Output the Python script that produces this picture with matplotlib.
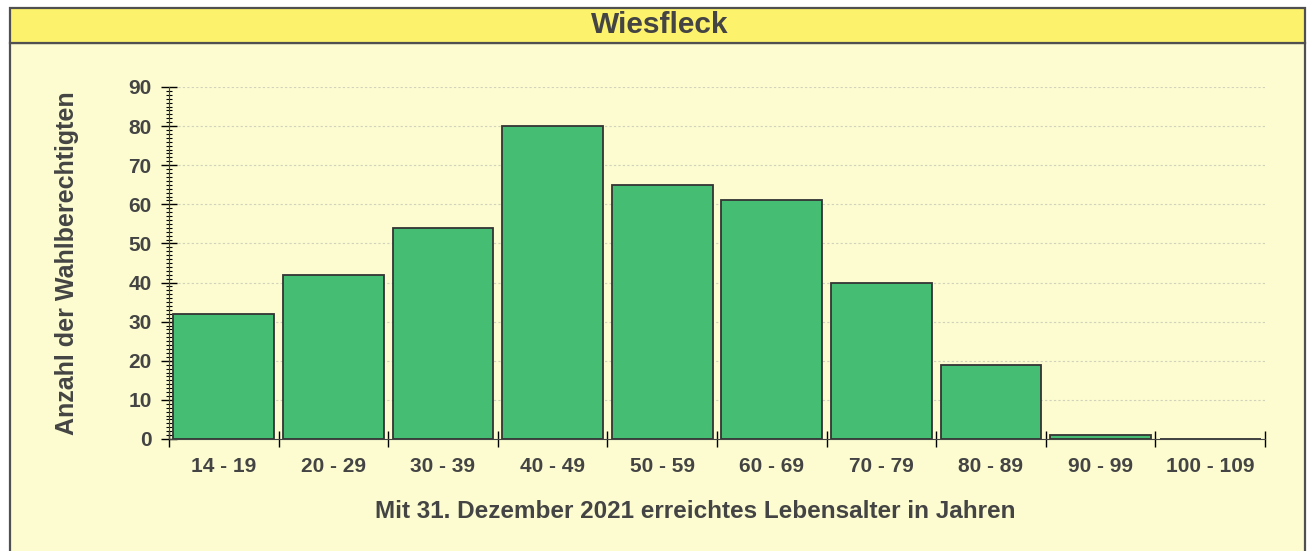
import matplotlib.pyplot as plt
from matplotlib.patches import Rectangle
from matplotlib.ticker import MultipleLocator, FixedLocator

categories = ["14 - 19", "20 - 29", "30 - 39", "40 - 49", "50 - 59",
              "60 - 69", "70 - 79", "80 - 89", "90 - 99", "100 - 109"]
counts = [32, 42, 54, 80, 65, 61, 40, 19, 1, 0]

title = "Wiesfleck"
xlabel = "Mit 31. Dezember 2021 erreichtes Lebensalter in Jahren"
ylabel = "Anzahl der Wahlberechtigten"

plt.rcParams["font.family"] = ["Liberation Sans", "DejaVu Sans"]
plt.rcParams["font.weight"] = "bold"

fig = plt.figure(figsize=(13.1, 5.51), dpi=100)
fig.patch.set_facecolor("white")

W, H = 1310, 551
# panel background and title band (pixel coords -> figure fractions)
fig.patches.append(Rectangle((10 / W, -0.02), 1295 / W, 1.02 - 43 / H,
                             transform=fig.transFigure, facecolor="#fcfcd0",
                             edgecolor="#505050", linewidth=1.6, zorder=-2))
fig.patches.append(Rectangle((10 / W, 1 - 43 / H), 1295 / W, 35 / H,
                             transform=fig.transFigure, facecolor="#fcf26c",
                             edgecolor="#505050", linewidth=1.6, zorder=-2))
fig.text(660 / W, 1 - 25 / H, title, ha="center", va="center",
         fontsize=21.5, fontweight="bold", color="#444444")

ax = fig.add_axes([169 / W, 1 - 439 / H, 1096 / W, 352 / H])
ax.set_facecolor("none")

x = list(range(len(categories)))
ax.bar(x, counts, width=0.92, color="#45bd72", edgecolor="#333333",
       linewidth=1.3, zorder=3)

ax.set_xlim(-0.5, len(categories) - 0.5)
ax.set_ylim(0, 90)

ax.yaxis.set_major_locator(MultipleLocator(10))
ax.yaxis.set_minor_locator(MultipleLocator(1))
ax.tick_params(axis="y", which="major", direction="inout", length=11,
               width=1, labelsize=15, labelcolor="#444444", pad=7)
ax.tick_params(axis="y", which="minor", direction="inout", length=5, width=0.8)

ax.set_xticks(x)
ax.set_xticklabels(categories)
ax.xaxis.set_minor_locator(FixedLocator([i - 0.5 for i in range(len(categories) + 1)]))
ax.tick_params(axis="x", which="major", length=0, labelsize=15,
               labelcolor="#444444", pad=13)
ax.tick_params(axis="x", which="minor", direction="inout", length=12, width=1)

ax.grid(axis="y", which="major", color="#d2d2bc", linestyle=(0, (2, 2)),
        linewidth=0.8, zorder=0)

for side in ["top", "right"]:
    ax.spines[side].set_visible(False)
ax.spines["left"].set_color("#444444")
ax.spines["bottom"].set_color("#444444")

ax.set_xlabel(xlabel, fontsize=17.5, fontweight="bold", color="#444444")
ax.xaxis.set_label_coords(0.48, -0.207)
ax.xaxis.label.set_va("center")
ax.set_ylabel(ylabel, fontsize=18, fontweight="bold", color="#444444")
ax.yaxis.set_label_coords(-0.093, 0.5)
ax.yaxis.label.set_va("center")

fig.savefig("out.png", dpi=100)
